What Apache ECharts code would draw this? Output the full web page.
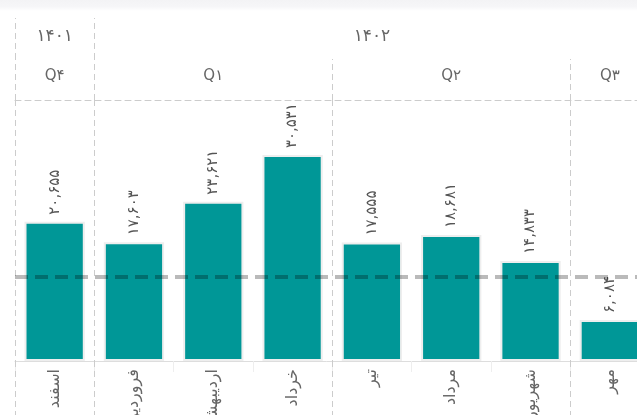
<!DOCTYPE html>
<html><head><meta charset="utf-8">
<script src="https://cdn.jsdelivr.net/npm/echarts@6/dist/echarts.min.js"></script>
<style>html,body{margin:0;padding:0;background:#fff}#c{width:637px;height:415px}</style>
</head><body><div id="c"></div>
<script>
const months = ['اسفند','فروردین','اردیبهشت','خرداد','تیر','مرداد','شهریور','مهر'];
const values = [20655, 17603, 23621, 30531, 17555, 18681, 14833, 6084];
const quarters = ['Q۴','Q۱','Q۱','Q۱','Q۲','Q۲','Q۲','Q۳'];
const years = ['۱۴۰۱','۱۴۰۲','۱۴۰۲','۱۴۰۲','۱۴۰۲','۱۴۰۲','۱۴۰۲','۱۴۰۲'];
const referenceValue = 12460;
const yMax = 38700;

function centers(arr){
  const m = {}; let s = 0;
  for (let i = 1; i <= arr.length; i++) {
    if (i === arr.length || arr[i] !== arr[s]) { m[Math.floor((s + i - 1) / 2)] = arr[s]; s = i; }
  }
  return m;
}
function boundaries(arr){
  const b = new Set();
  for (let i = 0; i < arr.length; i++) if (i === 0 || arr[i] !== arr[i-1]) b.add(i);
  return b;
}
const qC = centers(quarters), yC = centers(years);
const qB = boundaries(quarters), yB = boundaries(years);
const toFa = n => n.toLocaleString('en-US').replace(/\d/g, d => '۰۱۲۳۴۵۶۷۸۹'[d]);
const FONT = '"DejaVu Sans", sans-serif';
const dash = { color: '#cccccc', width: 1, type: [6, 4] };

const chart = echarts.init(document.getElementById('c'), null, { renderer: 'canvas' });
chart.setOption({
  animation: false,
  textStyle: { fontFamily: FONT },
  graphic: [{
    type: 'rect', left: 0, top: 0, z: -1,
    shape: { width: 637, height: 11 },
    style: { fill: new echarts.graphic.LinearGradient(0, 0, 0, 1, [
      { offset: 0, color: '#f3f3f5' }, { offset: 0.6, color: '#f6f6f8' }, { offset: 1, color: '#ffffff' }]) }
  }],
  grid: { left: 15, right: -12.5, top: 100, bottom: 54, containLabel: false, outerBoundsMode: 'none' },
  yAxis: { type: 'value', min: 0, max: yMax, show: false, splitLine: { show: false } },
  xAxis: [
    {
      type: 'category', data: months, position: 'bottom',
      axisLine: { lineStyle: { color: '#dddddd' } },
      axisTick: { show: true, length: 11, lineStyle: { color: '#eeeeee' } },
      axisLabel: { rotate: 90, margin: 8, interval: 0, fontSize: 16, color: '#666', fontFamily: FONT },
      splitLine: { show: true, interval: (i) => qB.has(i), lineStyle: dash }
    },
    {
      type: 'category', data: months, position: 'bottom',
      axisLine: { show: false }, axisLabel: { show: false },
      axisTick: { show: true, length: 60, interval: (i) => qB.has(i), lineStyle: dash }
    },
    {
      type: 'category', data: months, position: 'top', offset: 0,
      axisLine: { show: true, lineStyle: dash },
      axisTick: { show: true, length: 41, interval: (i) => qB.has(i), lineStyle: dash },
      axisLabel: { interval: 0, margin: 16, fontSize: 15, color: '#666', fontFamily: FONT,
        formatter: (v, i) => qC[i] || '' }
    },
    {
      type: 'category', data: months, position: 'top', offset: 41,
      axisLine: { show: false },
      axisTick: { show: true, length: 41, interval: (i) => yB.has(i), lineStyle: dash },
      axisLabel: { interval: 0, margin: 14, fontSize: 17, color: '#666', fontFamily: FONT,
        formatter: (v, i) => yC[i] || '' }
    }
  ],
  series: [{
    type: 'bar', data: values, xAxisIndex: 0,
    barCategoryGap: '24%',
    itemStyle: { color: '#009797', borderColor: '#eeeeee', borderWidth: 2 },
    label: { show: true, position: 'top', rotate: 90, align: 'left', verticalAlign: 'middle',
      distance: 7, fontSize: 15, color: '#555', fontFamily: FONT, formatter: p => toFa(p.value) },
    markLine: {
      silent: true, symbol: 'none', label: { show: false },
      lineStyle: { color: 'rgba(0,0,0,0.27)', width: 4, type: [13, 7] },
      data: [{ yAxis: referenceValue }]
    }
  }]
});
</script></body></html>
